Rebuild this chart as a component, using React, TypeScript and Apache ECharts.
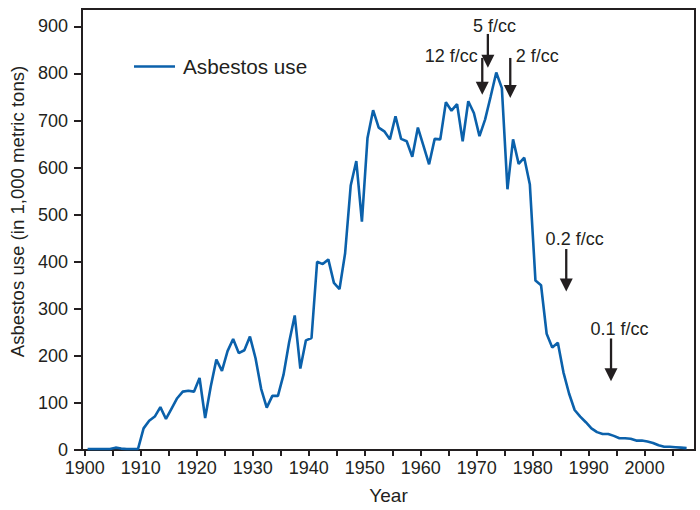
import React, { useEffect, useRef } from "react";
import * as echarts from "echarts";

// Year of each value (plotted at mid-year)
const years = [
  1900, 1901, 1902, 1903, 1904, 1905, 1906, 1907, 1908, 1909,
  1910, 1911, 1912, 1913, 1914, 1915, 1916, 1917, 1918, 1919,
  1920, 1921, 1922, 1923, 1924, 1925, 1926, 1927, 1928, 1929,
  1930, 1931, 1932, 1933, 1934, 1935, 1936, 1937, 1938, 1939,
  1940, 1941, 1942, 1943, 1944, 1945, 1946, 1947, 1948, 1949,
  1950, 1951, 1952, 1953, 1954, 1955, 1956, 1957, 1958, 1959,
  1960, 1961, 1962, 1963, 1964, 1965, 1966, 1967, 1968, 1969,
  1970, 1971, 1972, 1973, 1974, 1975, 1976, 1977, 1978, 1979,
  1980, 1981, 1982, 1983, 1984, 1985, 1986, 1987, 1988, 1989,
  1990, 1991, 1992, 1993, 1994, 1995, 1996, 1997, 1998, 1999,
  2000, 2001, 2002, 2003, 2004, 2005, 2006, 2007,
];

// Asbestos use, in 1,000 metric tons
const asbestosUse = [
  2, 2, 2, 2, 2, 5, 3, 2, 2, 2,
  46, 62, 71, 91, 66, 88, 110, 124, 126, 124,
  153, 68, 135, 192, 168, 210, 236, 206, 212, 241,
  195, 130, 90, 115, 115, 160, 229, 286, 173, 233,
  238, 400, 395, 405, 355, 342, 418, 562, 614, 485,
  663, 722, 685, 677, 660, 709, 661, 656, 623, 685,
  646, 607, 661, 660, 739, 721, 735, 656, 741, 716,
  667, 702, 751, 802, 769, 554, 660, 608, 621, 564,
  360, 350, 247, 218, 228, 165, 120, 85, 71, 59,
  46, 38, 34, 34, 30, 25, 25, 24, 20, 20,
  18, 15, 10, 7, 7, 6, 5, 4,
];

const xTickValues = [1900, 1905, 1910, 1915, 1920, 1925, 1930, 1935, 1940, 1945, 1950, 1955, 1960, 1965, 1970, 1975, 1980, 1985, 1990, 1995, 2000, 2005];
const xLabelValues = [1900, 1910, 1920, 1930, 1940, 1950, 1960, 1970, 1980, 1990, 2000];
const yTickValues = [0, 100, 200, 300, 400, 500, 600, 700, 800, 900];

// Exposure-limit annotations (year of the limit, arrow top and tip in data units)
const limitLabels = ["12 f/cc", "5 f/cc", "2 f/cc", "0.2 f/cc", "0.1 f/cc"];
const limitYears = [1971, 1972, 1976, 1986, 1994];
const limitArrowTop = [833, 884, 833, 427, 237];
const limitArrowTip = [755, 812, 748, 337, 146];

// label placement (data units) and alignment
const labelX = [1970.2, 1973.2, 1977.0, 1987.5, 1995.5];
const labelY = [838, 901, 838, 448, 258];
const labelAlign = ["right", "center", "left", "center", "center"];

const INK = "#231f20";
const BLUE = "#0b61ab";
const FONT = "Liberation Sans, Arial, Helvetica, sans-serif";

export default function App() {
  const ref = useRef<HTMLDivElement>(null);
  useEffect(() => {
    if (!ref.current) return;
    const chart = echarts.init(ref.current, null, { renderer: "svg" });
    const data = years.map((y, i) => [y + 0.5, asbestosUse[i]]);
    chart.setOption({
      animation: false,
      backgroundColor: "#ffffff",
      textStyle: { fontFamily: FONT, color: INK },
      grid: {
        left: 82,
        right: 5,
        top: 9,
        bottom: 58,
        show: true,
        borderColor: INK,
        borderWidth: 2,
      },
      legend: {
        left: 129,
        top: 51,
        icon: "rect",
        itemWidth: 41,
        itemHeight: 2.6,
        textStyle: { fontSize: 20.7, color: INK, fontFamily: FONT, padding: [0, 0, 0, 3] },
        data: ["Asbestos use"],
      },
      xAxis: {
        type: "value",
        min: 1899.5,
        max: 2009,
        name: "Year",
        nameLocation: "middle",
        nameGap: 36,
        nameTextStyle: { fontSize: 19, color: INK, fontFamily: FONT },
        axisLine: { show: true, onZero: false, lineStyle: { color: INK, width: 2 } },
        axisTick: { show: true, customValues: xTickValues, length: 6, lineStyle: { color: INK, width: 2 } },
        axisLabel: {
          customValues: xLabelValues,
          fontSize: 18,
          color: INK,
          margin: 9,
          fontFamily: FONT,
          formatter: (v: number) => String(v),
        },
        splitLine: { show: false },
      },
      yAxis: {
        type: "value",
        min: 0,
        max: 937,
        name: "Asbestos use (in 1,000 metric tons)",
        nameLocation: "middle",
        nameGap: 48,
        nameTextStyle: { fontSize: 18.6, color: INK, fontFamily: FONT, padding: [0, 0, 0, 36] },
        axisLine: { show: true, lineStyle: { color: INK, width: 2 } },
        axisTick: { show: true, customValues: yTickValues, length: 8, lineStyle: { color: INK, width: 2 } },
        axisLabel: { customValues: yTickValues, fontSize: 18, color: INK, margin: 14, fontFamily: FONT },
        splitLine: { show: false },
      },
      series: [
        {
          name: "Asbestos use",
          type: "line",
          data,
          symbol: "none",
          lineStyle: { color: BLUE, width: 2.6 },
          itemStyle: { color: BLUE },
        },
      ],
    });

    const toPx = (x: number, y: number) =>
      chart.convertToPixel({ xAxisIndex: 0, yAxisIndex: 0 }, [x, y]) as number[];
    const HEAD_LEN = 13;
    const HEAD_HALF = 6.5;
    const graphics: any[] = [];
    limitYears.forEach((yr, i) => {
      const [sx, sy] = toPx(yr, limitArrowTop[i]);
      const [, ty] = toPx(yr, limitArrowTip[i]);
      graphics.push({
        type: "line",
        shape: { x1: sx, y1: sy, x2: sx, y2: ty - HEAD_LEN + 1 },
        style: { stroke: INK, lineWidth: 2.3 },
        silent: true,
      });
      graphics.push({
        type: "polygon",
        shape: { points: [[sx - HEAD_HALF, ty - HEAD_LEN], [sx + HEAD_HALF, ty - HEAD_LEN], [sx, ty]] },
        style: { fill: INK },
        silent: true,
      });
      const [lx, ly] = toPx(labelX[i], labelY[i]);
      graphics.push({
        type: "text",
        x: lx,
        y: ly,
        style: {
          text: limitLabels[i],
          fontSize: 18,
          fontFamily: FONT,
          fill: INK,
          align: labelAlign[i],
          verticalAlign: "middle",
        },
        silent: true,
      });
    });
    chart.setOption({ graphic: graphics });

    return () => chart.dispose();
  }, []);
  return <div ref={ref} style={{ width: 700, height: 510, position: "absolute", left: 0, top: 0 }} />;
}
